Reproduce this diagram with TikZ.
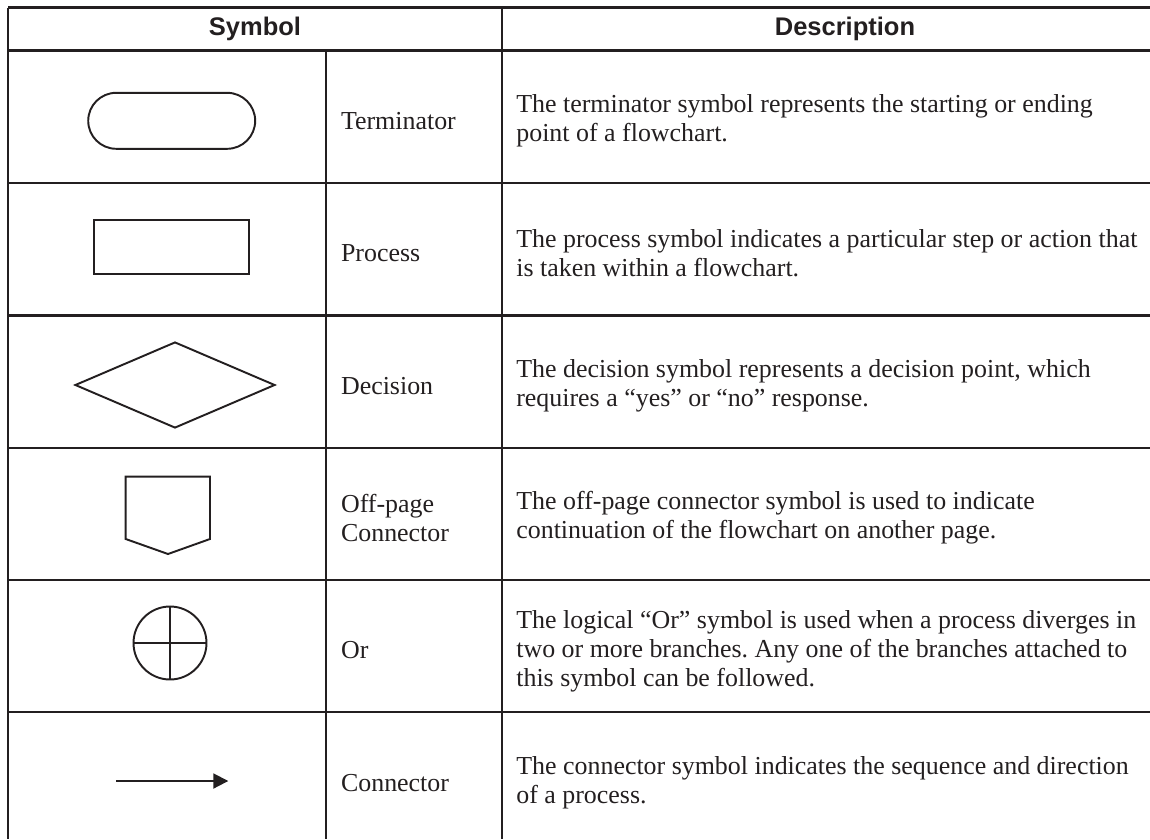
\documentclass[tikz,border=0pt]{standalone}
\usepackage{fontspec}
\setmainfont{Liberation Serif}
\setsansfont{Liberation Sans}
\usetikzlibrary{arrows.meta,shapes.geometric}
\definecolor{ink}{RGB}{35,31,32}
\frenchspacing

\begin{document}
\begin{tikzpicture}[x=0.02cm, y=-0.02cm,
    every node/.style={text=ink},
    grid/.style={draw=ink, line width=1.25pt},
    head/.style={font=\sffamily\bfseries\fontsize{14.5pt}{17pt}\selectfont},
    lbl/.style={anchor=west, align=left, inner sep=0pt,
      font=\fontsize{14.75pt}{16.5pt}\selectfont},
    sym/.style={draw=ink, line width=1.1pt, inner sep=0pt}]

\useasboundingbox (0,0) rectangle (1150,839);

% table rules
\foreach \y in {7.5,183,315.5,447.7,580,712.3}
  \draw[grid] (8.3,\y) -- (1150,\y);
\draw[grid, line width=1.8pt] (8.3,50.5) -- (1150,50.5);
\draw[grid] (8.3,7.5) -- (8.3,839);
\draw[grid] (501.7,7.5) -- (501.7,839);
\draw[grid] (326,50.5) -- (326,839);

% header
\node[head] (hsym) at (255,29) {Symbol};
\node[head] (hdesc) at (845,29) {Description};

% symbols
\node[sym, rounded corners=0.56cm, minimum width=3.34cm, minimum height=1.12cm] (term) at (171.7,120.8) {};
\node[sym, minimum width=3.1cm, minimum height=1.08cm] (proc) at (171.8,247.2) {};
\node[sym, diamond, minimum width=4cm, minimum height=1.72cm] (dec) at (175,385) {};
\draw[sym, line join=miter] (125.7,476.7) -- (210,476.7) -- (210,539) -- (168,554) -- (125.7,539) -- cycle;
\node[sym, circle, minimum size=1.46cm] (or) at (170,643) {};
\draw[sym] (or.north) -- (or.south) (or.west) -- (or.east);
\coordinate (cs) at (116,781);
\coordinate (ce) at (228.3,781);
\draw[sym, -{Triangle[length=0.3cm, width=0.3cm]}] (cs) -- (ce);

% names
\node[lbl] (lterm) at (340.7,121) {Terminator};
\node[lbl] (lproc) at (340.7,253) {Process};
\node[lbl] (ldec) at (340.7,386) {Decision};
\node[lbl] (loff) at (340.7,518) {Off-page\\Connector};
\node[lbl] (lor) at (340.7,650) {Or};
\node[lbl] (lcon) at (340.7,783) {Connector};

% descriptions
\node[lbl] (dterm) at (516,121) {The terminator symbol represents the starting or ending\\point of a flowchart.};
\node[lbl] (dproc) at (516,253) {The process symbol indicates a particular step or action that\\is taken within a flowchart.};
\node[lbl] (ddec) at (516,386) {The decision symbol represents a decision point, which\\requires a “yes” or “no” response.};
\node[lbl] (doff) at (516,518) {The off-page connector symbol is used to indicate\\continuation of the flowchart on another page.};
\node[lbl] (dor) at (516,651) {The logical “Or” symbol is used when a process diverges in\\two or more branches. Any one of the branches attached to\\this symbol can be followed.};
\node[lbl] (dcon) at (516,783) {The connector symbol indicates the sequence and direction\\of a process.};

\end{tikzpicture}
\end{document}
